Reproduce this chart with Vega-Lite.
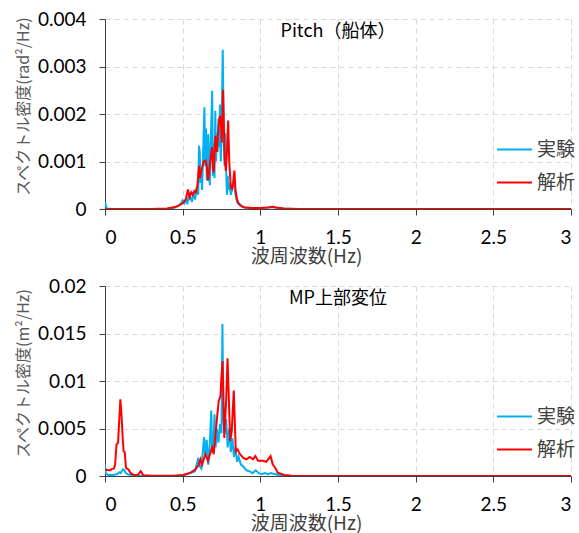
{
  "$schema": "https://vega.github.io/schema/vega-lite/v6.json",
  "padding": {"left": 15, "top": 10, "right": 0, "bottom": 0},
  "spacing": 11,
  "config": {
    "view": {"stroke": null},
    "font": "Noto Sans CJK JP",
    "axis": {"labelFont": "Lato", "labelFontSize": 19, "labelColor": "#000000", "titleFont": "Noto Sans CJK JP", "titleFontWeight": "normal", "gridColor": "#d9d9d9", "gridDash": [5, 4], "gridWidth": 1, "domainColor": "#404040", "tickColor": "#404040", "tickSize": 6},
    "axisX": {"labelPadding": 13, "titleFontSize": 19, "titleColor": "#404040", "titlePadding": 0, "format": "~g", "titleX": 201},
    "axisY": {"labelPadding": 13, "titleFontSize": 16, "titleColor": "#595959", "titlePadding": 6, "format": "~g", "titleY": 87},
    "legend": {"orient": "none", "legendX": 391, "legendY": 112, "title": null, "symbolType": "stroke", "symbolSize": 1225, "symbolStrokeWidth": 2, "labelFont": "Noto Sans CJK JP", "labelFontSize": 19, "labelColor": "#404040", "labelOffset": 4, "rowPadding": 4, "padding": 0},
    "title": {"fontSize": 18, "fontWeight": "normal", "font": "Noto Sans CJK JP", "color": "#000000", "offset": -31}
  },
  "datasets": {
    "pitch": [
      {"s":"実験","x":0,"y":0.00015},{"s":"実験","x":0.01,"y":0.00001},{"s":"実験","x":0.05,"y":0},{"s":"実験","x":0.3,"y":0},{"s":"実験","x":0.4,"y":0.000005},{"s":"実験","x":0.42,"y":0.00001},{"s":"実験","x":0.45,"y":0.00003},{"s":"実験","x":0.47,"y":0.00006},{"s":"実験","x":0.49,"y":0.00012},{"s":"実験","x":0.5,"y":0.00018},{"s":"実験","x":0.51,"y":0.00012},{"s":"実験","x":0.52,"y":0.0002},{"s":"実験","x":0.53,"y":0.0001},{"s":"実験","x":0.54,"y":0.0003},{"s":"実験","x":0.55,"y":0.00025},{"s":"実験","x":0.56,"y":0.00015},{"s":"実験","x":0.57,"y":0.00035},{"s":"実験","x":0.58,"y":0.0002},{"s":"実験","x":0.59,"y":0.00045},{"s":"実験","x":0.6,"y":0.0003},{"s":"実験","x":0.605,"y":0.00133},{"s":"実験","x":0.61,"y":0.0012},{"s":"実験","x":0.615,"y":0.00055},{"s":"実験","x":0.62,"y":0.0008},{"s":"実験","x":0.625,"y":0.0004},{"s":"実験","x":0.63,"y":0.001},{"s":"実験","x":0.64,"y":0.00214},{"s":"実験","x":0.645,"y":0.0009},{"s":"実験","x":0.65,"y":0.0017},{"s":"実験","x":0.655,"y":0.0006},{"s":"実験","x":0.66,"y":0.0012},{"s":"実験","x":0.665,"y":0.00158},{"s":"実験","x":0.67,"y":0.0008},{"s":"実験","x":0.675,"y":0.0005},{"s":"実験","x":0.68,"y":0.0013},{"s":"実験","x":0.69,"y":0.00249},{"s":"実験","x":0.695,"y":0.0007},{"s":"実験","x":0.7,"y":0.0014},{"s":"実験","x":0.705,"y":0.00065},{"s":"実験","x":0.71,"y":0.00207},{"s":"実験","x":0.715,"y":0.001},{"s":"実験","x":0.72,"y":0.0016},{"s":"実験","x":0.725,"y":0.0012},{"s":"実験","x":0.73,"y":0.0019},{"s":"実験","x":0.735,"y":0.0013},{"s":"実験","x":0.74,"y":0.0022},{"s":"実験","x":0.745,"y":0.001},{"s":"実験","x":0.75,"y":0.0015},{"s":"実験","x":0.758,"y":0.00335},{"s":"実験","x":0.765,"y":0.0014},{"s":"実験","x":0.77,"y":0.0009},{"s":"実験","x":0.775,"y":0.0016},{"s":"実験","x":0.78,"y":0.0008},{"s":"実験","x":0.785,"y":0.0003},{"s":"実験","x":0.79,"y":0.0007},{"s":"実験","x":0.795,"y":0.0004},{"s":"実験","x":0.8,"y":0.00055},{"s":"実験","x":0.81,"y":0.0003},{"s":"実験","x":0.82,"y":0.00045},{"s":"実験","x":0.83,"y":0.0006},{"s":"実験","x":0.84,"y":0.0003},{"s":"実験","x":0.85,"y":0.00015},{"s":"実験","x":0.86,"y":0.0001},{"s":"実験","x":0.88,"y":0.00005},{"s":"実験","x":0.9,"y":0.00003},{"s":"実験","x":0.95,"y":0.00002},{"s":"実験","x":1.0,"y":0.00002},{"s":"実験","x":1.05,"y":0.00003},{"s":"実験","x":1.08,"y":0.00005},{"s":"実験","x":1.1,"y":0.00003},{"s":"実験","x":1.15,"y":0.00001},{"s":"実験","x":1.2,"y":0},{"s":"実験","x":3,"y":0},
      {"s":"解析","x":0,"y":0},{"s":"解析","x":0.3,"y":0},{"s":"解析","x":0.4,"y":0.00001},{"s":"解析","x":0.45,"y":0.00004},{"s":"解析","x":0.48,"y":0.00008},{"s":"解析","x":0.5,"y":0.00012},{"s":"解析","x":0.52,"y":0.0002},{"s":"解析","x":0.534,"y":0.00041},{"s":"解析","x":0.545,"y":0.00025},{"s":"解析","x":0.555,"y":0.00035},{"s":"解析","x":0.565,"y":0.0003},{"s":"解析","x":0.575,"y":0.00038},{"s":"解析","x":0.585,"y":0.00035},{"s":"解析","x":0.595,"y":0.0005},{"s":"解析","x":0.605,"y":0.00091},{"s":"解析","x":0.612,"y":0.00065},{"s":"解析","x":0.62,"y":0.0008},{"s":"解析","x":0.635,"y":0.001},{"s":"解析","x":0.647,"y":0.00102},{"s":"解析","x":0.655,"y":0.0009},{"s":"解析","x":0.663,"y":0.0006},{"s":"解析","x":0.67,"y":0.00075},{"s":"解析","x":0.68,"y":0.0011},{"s":"解析","x":0.69,"y":0.0013},{"s":"解析","x":0.695,"y":0.00085},{"s":"解析","x":0.7,"y":0.00077},{"s":"解析","x":0.71,"y":0.00154},{"s":"解析","x":0.72,"y":0.0012},{"s":"解析","x":0.73,"y":0.0017},{"s":"解析","x":0.739,"y":0.00196},{"s":"解析","x":0.745,"y":0.0019},{"s":"解析","x":0.752,"y":0.0014},{"s":"解析","x":0.76,"y":0.00251},{"s":"解析","x":0.77,"y":0.0011},{"s":"解析","x":0.778,"y":0.0008},{"s":"解析","x":0.785,"y":0.0012},{"s":"解析","x":0.793,"y":0.00186},{"s":"解析","x":0.8,"y":0.001},{"s":"解析","x":0.81,"y":0.00045},{"s":"解析","x":0.818,"y":0.00042},{"s":"解析","x":0.825,"y":0.00055},{"s":"解析","x":0.833,"y":0.00081},{"s":"解析","x":0.84,"y":0.0004},{"s":"解析","x":0.85,"y":0.0002},{"s":"解析","x":0.86,"y":0.00012},{"s":"解析","x":0.88,"y":0.00006},{"s":"解析","x":0.9,"y":0.00003},{"s":"解析","x":0.95,"y":0.00002},{"s":"解析","x":1.0,"y":0.00002},{"s":"解析","x":1.05,"y":0.00003},{"s":"解析","x":1.08,"y":0.00004},{"s":"解析","x":1.1,"y":0.00003},{"s":"解析","x":1.15,"y":0.00001},{"s":"解析","x":1.25,"y":0},{"s":"解析","x":3,"y":0}
    ],
    "mp": [
      {"s":"実験","x":0,"y":0.0012},{"s":"実験","x":0.005,"y":0.0003},{"s":"実験","x":0.02,"y":0.0001},{"s":"実験","x":0.05,"y":0.0001},{"s":"実験","x":0.08,"y":0.0002},{"s":"実験","x":0.09,"y":0.0004},{"s":"実験","x":0.1,"y":0.0003},{"s":"実験","x":0.115,"y":0.0007},{"s":"実験","x":0.125,"y":0.0006},{"s":"実験","x":0.135,"y":0.0003},{"s":"実験","x":0.15,"y":0.00015},{"s":"実験","x":0.2,"y":0.00005},{"s":"実験","x":0.3,"y":0},{"s":"実験","x":0.45,"y":0.00002},{"s":"実験","x":0.5,"y":0.0001},{"s":"実験","x":0.52,"y":0.00015},{"s":"実験","x":0.55,"y":0.0003},{"s":"実験","x":0.58,"y":0.0005},{"s":"実験","x":0.6,"y":0.0019},{"s":"実験","x":0.61,"y":0.001},{"s":"実験","x":0.62,"y":0.0008},{"s":"実験","x":0.638,"y":0.0041},{"s":"実験","x":0.645,"y":0.002},{"s":"実験","x":0.655,"y":0.0038},{"s":"実験","x":0.665,"y":0.0012},{"s":"実験","x":0.675,"y":0.0035},{"s":"実験","x":0.684,"y":0.0069},{"s":"実験","x":0.69,"y":0.0025},{"s":"実験","x":0.698,"y":0.003},{"s":"実験","x":0.705,"y":0.0065},{"s":"実験","x":0.712,"y":0.003},{"s":"実験","x":0.72,"y":0.005},{"s":"実験","x":0.73,"y":0.0035},{"s":"実験","x":0.74,"y":0.0055},{"s":"実験","x":0.75,"y":0.0045},{"s":"実験","x":0.756,"y":0.016},{"s":"実験","x":0.762,"y":0.006},{"s":"実験","x":0.77,"y":0.0045},{"s":"実験","x":0.78,"y":0.006},{"s":"実験","x":0.79,"y":0.003},{"s":"実験","x":0.8,"y":0.005},{"s":"実験","x":0.81,"y":0.0025},{"s":"実験","x":0.82,"y":0.004},{"s":"実験","x":0.83,"y":0.002},{"s":"実験","x":0.84,"y":0.003},{"s":"実験","x":0.85,"y":0.0015},{"s":"実験","x":0.86,"y":0.002},{"s":"実験","x":0.875,"y":0.0012},{"s":"実験","x":0.89,"y":0.001},{"s":"実験","x":0.91,"y":0.0006},{"s":"実験","x":0.93,"y":0.0005},{"s":"実験","x":0.95,"y":0.0003},{"s":"実験","x":0.97,"y":0.0006},{"s":"実験","x":0.99,"y":0.0003},{"s":"実験","x":1.01,"y":0.0002},{"s":"実験","x":1.03,"y":0.0003},{"s":"実験","x":1.05,"y":0.0002},{"s":"実験","x":1.07,"y":0.0003},{"s":"実験","x":1.09,"y":0.0002},{"s":"実験","x":1.12,"y":0.0001},{"s":"実験","x":1.15,"y":0.00005},{"s":"実験","x":1.2,"y":0.00002},{"s":"実験","x":3,"y":0},
      {"s":"解析","x":0,"y":0.0007},{"s":"解析","x":0.02,"y":0.0006},{"s":"解析","x":0.036,"y":0.0006},{"s":"解析","x":0.045,"y":0.00075},{"s":"解析","x":0.057,"y":0.00077},{"s":"解析","x":0.065,"y":0.0012},{"s":"解析","x":0.074,"y":0.0033},{"s":"解析","x":0.084,"y":0.0035},{"s":"解析","x":0.092,"y":0.006},{"s":"解析","x":0.099,"y":0.00806},{"s":"解析","x":0.106,"y":0.0065},{"s":"解析","x":0.114,"y":0.004},{"s":"解析","x":0.12,"y":0.0026},{"s":"解析","x":0.127,"y":0.0025},{"s":"解析","x":0.135,"y":0.00085},{"s":"解析","x":0.152,"y":0.00067},{"s":"解析","x":0.165,"y":0.0003},{"s":"解析","x":0.184,"y":0.00014},{"s":"解析","x":0.21,"y":0.0001},{"s":"解析","x":0.23,"y":0.0005},{"s":"解析","x":0.247,"y":0.00007},{"s":"解析","x":0.3,"y":0.00002},{"s":"解析","x":0.45,"y":0.00002},{"s":"解析","x":0.5,"y":0.00008},{"s":"解析","x":0.519,"y":0.00018},{"s":"解析","x":0.551,"y":0.00035},{"s":"解析","x":0.583,"y":0.0007},{"s":"解析","x":0.604,"y":0.0012},{"s":"解析","x":0.614,"y":0.00175},{"s":"解析","x":0.625,"y":0.0012},{"s":"解析","x":0.646,"y":0.0023},{"s":"解析","x":0.663,"y":0.0016},{"s":"解析","x":0.689,"y":0.003},{"s":"解析","x":0.7,"y":0.0023},{"s":"解析","x":0.714,"y":0.0049},{"s":"解析","x":0.732,"y":0.0079},{"s":"解析","x":0.743,"y":0.0084},{"s":"解析","x":0.749,"y":0.0103},{"s":"解析","x":0.757,"y":0.0121},{"s":"解析","x":0.768,"y":0.004},{"s":"解析","x":0.78,"y":0.008},{"s":"解析","x":0.789,"y":0.0124},{"s":"解析","x":0.806,"y":0.0037},{"s":"解析","x":0.816,"y":0.0047},{"s":"解析","x":0.829,"y":0.009},{"s":"解析","x":0.842,"y":0.0026},{"s":"解析","x":0.854,"y":0.0028},{"s":"解析","x":0.869,"y":0.0023},{"s":"解析","x":0.89,"y":0.0019},{"s":"解析","x":0.911,"y":0.00175},{"s":"解析","x":0.932,"y":0.002},{"s":"解析","x":0.953,"y":0.00175},{"s":"解析","x":0.968,"y":0.0021},{"s":"解析","x":0.985,"y":0.0016},{"s":"解析","x":1.017,"y":0.0016},{"s":"解析","x":1.038,"y":0.0015},{"s":"解析","x":1.066,"y":0.0021},{"s":"解析","x":1.08,"y":0.0012},{"s":"解析","x":1.095,"y":0.0009},{"s":"解析","x":1.112,"y":0.00035},{"s":"解析","x":1.155,"y":0.0001},{"s":"解析","x":1.2,"y":0.00003},{"s":"解析","x":3,"y":0}
    ]
  },
  "resolve": {"scale": {"color": "independent", "y": "independent", "x": "independent"}, "legend": {"color": "independent"}},
  "vconcat": [
    {
      "width": 466, "height": 190,
      "title": {"text": "Pitch（船体）"},
      "data": {"name": "pitch"},
      "encoding": {
        "x": {"field": "x", "type": "quantitative", "scale": {"domain": [0, 3]}, "axis": {"title": "波周波数(Hz)", "values": [0, 0.5, 1, 1.5, 2, 2.5, 3]}},
        "y": {"field": "y", "type": "quantitative", "scale": {"domain": [0, 0.004]}, "axis": {"title": "スペクトル密度(rad²/Hz)", "values": [0, 0.001, 0.002, 0.003, 0.004]}},
        "color": {"field": "s", "type": "nominal", "scale": {"domain": ["実験", "解析"], "range": ["#00B0F0", "#FF0000"]}, "legend": {}}
      },
      "layer": [
        {"transform": [{"filter": "datum.s === '実験'"}], "mark": {"type": "line", "strokeWidth": 2, "clip": true}},
        {"transform": [{"filter": "datum.s === '解析'"}], "mark": {"type": "line", "strokeWidth": 2, "clip": true}}
      ]
    },
    {
      "width": 466, "height": 190,
      "title": {"text": "MP上部変位"},
      "data": {"name": "mp"},
      "encoding": {
        "x": {"field": "x", "type": "quantitative", "scale": {"domain": [0, 3]}, "axis": {"title": "波周波数(Hz)", "values": [0, 0.5, 1, 1.5, 2, 2.5, 3]}},
        "y": {"field": "y", "type": "quantitative", "scale": {"domain": [0, 0.02]}, "axis": {"title": "スペクトル密度(m²/Hz)", "values": [0, 0.005, 0.01, 0.015, 0.02]}},
        "color": {"field": "s", "type": "nominal", "scale": {"domain": ["実験", "解析"], "range": ["#00B0F0", "#FF0000"]}, "legend": {}}
      },
      "layer": [
        {"transform": [{"filter": "datum.s === '実験'"}], "mark": {"type": "line", "strokeWidth": 2, "clip": true}},
        {"transform": [{"filter": "datum.s === '解析'"}], "mark": {"type": "line", "strokeWidth": 2, "clip": true}}
      ]
    }
  ]
}
